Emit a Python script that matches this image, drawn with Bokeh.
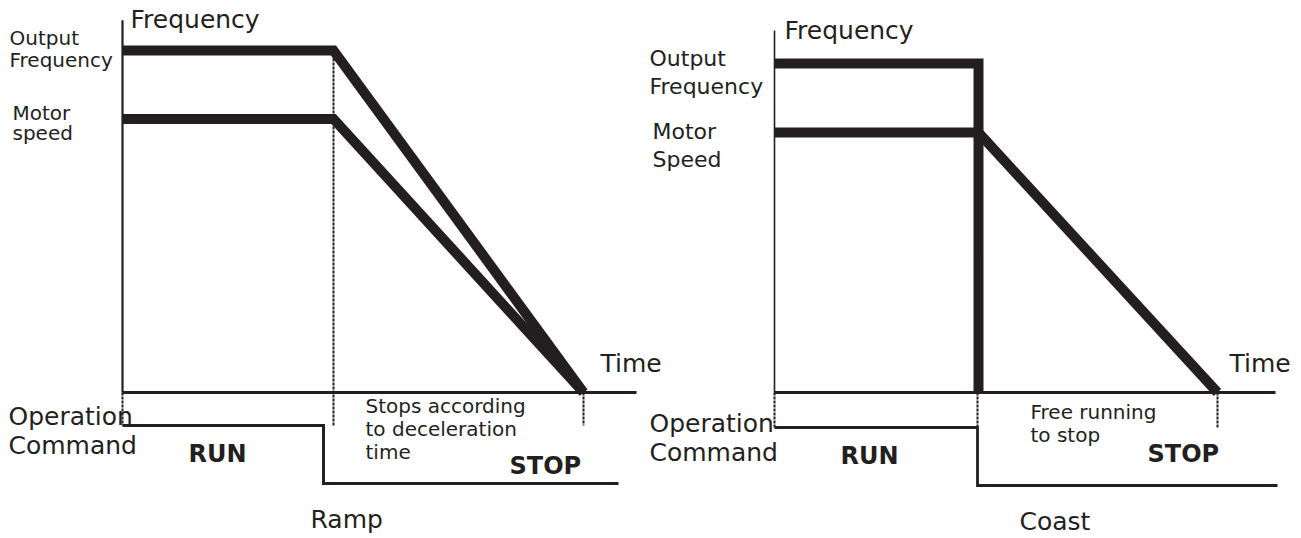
from bokeh.plotting import figure
from bokeh.models import Range1d
from bokeh.embed import file_html
from bokeh.resources import INLINE
from bokeh.core.properties import value

INK = "#231f20"
FONT = "DejaVu Sans"

# ---------------- data (time in s, frequency in Hz, command 1=RUN 0=STOP) ----------------
# Ramp stop
ramp_time = [0.0, 4.22, 9.22]
ramp_output_hz = [60, 60, 0]
ramp_motor_hz = [48, 48, 0]
ramp_cmd_time = [0.0, 4.02, 4.02, 9.92]
ramp_cmd_state = [1, 1, 0, 0]
ramp_marker_time = [0.0, 4.22, 9.22]
ramp_marker_top_hz = [0, 60, 0]
ramp_axis_time_end = 10.28
ramp_axis_hz_top = 65.3

# Coast stop
coast_output_time = [0.0, 4.08, 4.08]
coast_output_hz = [60, 60, 0]
coast_motor_time = [0.0, 4.08, 8.86]
coast_motor_hz = [47.4, 47.4, 0]
coast_cmd_time = [0.0, 4.06, 4.06, 10.06]
coast_cmd_state = [1, 1, 0, 0]
coast_marker_time = [0.0, 4.06, 8.86]
coast_marker_top_hz = [0, 0, 0]
coast_axis_time_end = 10.02
coast_axis_hz_top = 66.0

# ---------------- layout (canvas pixels) ----------------
W, H = 1301, 538
BASELINE_FIX = 0.39  # em offset of rendered alphabetic baseline

ramp_layout = dict(axis_x=122, axis_y=392, px_s=50.0, px_hz=5.7,
                   cmd_hi=425, cmd_lo=483, vaxis_w=2.2, cmd_w=3, xr="default", yr="default")
coast_layout = dict(axis_x=774, axis_y=392, px_s=50.0, px_hz=5.483,
                    cmd_hi=427, cmd_lo=485, vaxis_w=1.6, cmd_w=2.8, xr="coast_x", yr="coast_y")


def ranges(L):
    xr = Range1d((0 - L["axis_x"]) / L["px_s"], (W - L["axis_x"]) / L["px_s"])
    yr = Range1d((L["axis_y"] - H) / L["px_hz"], (L["axis_y"] - 0) / L["px_hz"])
    return xr, yr


rx, ry = ranges(ramp_layout)
cx, cy = ranges(coast_layout)
p = figure(width=W, height=H, x_range=rx, y_range=ry,
           output_backend="svg", toolbar_location=None, min_border=0)
p.extra_x_ranges = {"coast_x": cx}
p.extra_y_ranges = {"coast_y": cy}
p.axis.visible = False
p.grid.visible = False
p.outline_line_color = None
p.background_fill_color = "white"
p.border_fill_color = "white"


def tx(L, px):
    return (px - L["axis_x"]) / L["px_s"]


def ty(L, py):
    return (L["axis_y"] - py) / L["px_hz"]


def cmd_y(L, states):
    hi, lo = ty(L, L["cmd_hi"]), ty(L, L["cmd_lo"])
    return [lo + s * (hi - lo) for s in states]


def line(L, xs, ys, **kw):
    p.line(xs, ys, line_color=INK, x_range_name=L["xr"], y_range_name=L["yr"], **kw)


def label(L, px, py, txt, size, bold=False):
    py = py - BASELINE_FIX * size
    p.text(x=[tx(L, px)], y=[ty(L, py)], text=[txt], text_font=value(FONT),
           text_font_size=f"{size}px", text_font_style="bold" if bold else "normal",
           text_color=INK, text_align="left", text_baseline="alphabetic",
           x_range_name=L["xr"], y_range_name=L["yr"])


def draw_common(L, marker_t, marker_top, axis_t_end, axis_hz_top, cmd_t, cmd_s):
    low = cmd_y(L, [1])[0]
    for t, top in zip(marker_t, marker_top):
        line(L, [t, t], [top, low], line_width=2, line_dash="3 1")
    line(L, [0, 0], [0, axis_hz_top], line_width=L["vaxis_w"])
    line(L, [0, axis_t_end], [0, 0], line_width=3)
    line(L, cmd_t, cmd_y(L, cmd_s), line_width=L["cmd_w"], line_join="miter")


# ---------------- Ramp panel ----------------
L = ramp_layout
draw_common(L, ramp_marker_time, ramp_marker_top_hz, ramp_axis_time_end, ramp_axis_hz_top,
            ramp_cmd_time, ramp_cmd_state)
line(L, ramp_time, ramp_output_hz, line_width=10, line_join="miter")
line(L, ramp_time, ramp_motor_hz, line_width=10, line_join="miter")
label(L, 130, 29, "Frequency", 25)
label(L, 9, 45, "Output", 20)
label(L, 9, 67, "Frequency", 20)
label(L, 12, 120, "Motor", 20)
label(L, 12, 140, "speed", 20)
label(L, 600, 373, "Time", 25)
label(L, 8, 426, "Operation", 25)
label(L, 8, 455, "Command", 25)
label(L, 188, 463, "RUN", 24, bold=True)
label(L, 365, 413, "Stops according", 20)
label(L, 365, 436, "to deceleration", 20)
label(L, 365, 459, "time", 20)
label(L, 509, 475, "STOP", 24, bold=True)
label(L, 310, 529, "Ramp", 25)

# ---------------- Coast panel ----------------
L = coast_layout
draw_common(L, coast_marker_time, coast_marker_top_hz, coast_axis_time_end, coast_axis_hz_top,
            coast_cmd_time, coast_cmd_state)
line(L, coast_output_time, coast_output_hz, line_width=10, line_join="miter")
line(L, coast_motor_time, coast_motor_hz, line_width=10, line_join="miter")
label(L, 784, 40, "Frequency", 25)
label(L, 649, 67, "Output", 22)
label(L, 649, 95, "Frequency", 22)
label(L, 652, 140, "Motor", 22)
label(L, 652, 168, "Speed", 22)
label(L, 1229, 373, "Time", 25)
label(L, 649, 433, "Operation", 25)
label(L, 649, 462, "Command", 25)
label(L, 840, 465, "RUN", 24, bold=True)
label(L, 1030, 419, "Free running", 20)
label(L, 1030, 442, "to stop", 20)
label(L, 1147, 463, "STOP", 24, bold=True)
label(L, 1019, 531, "Coast", 25)

open("out.html", "w").write(file_html(p, INLINE))
